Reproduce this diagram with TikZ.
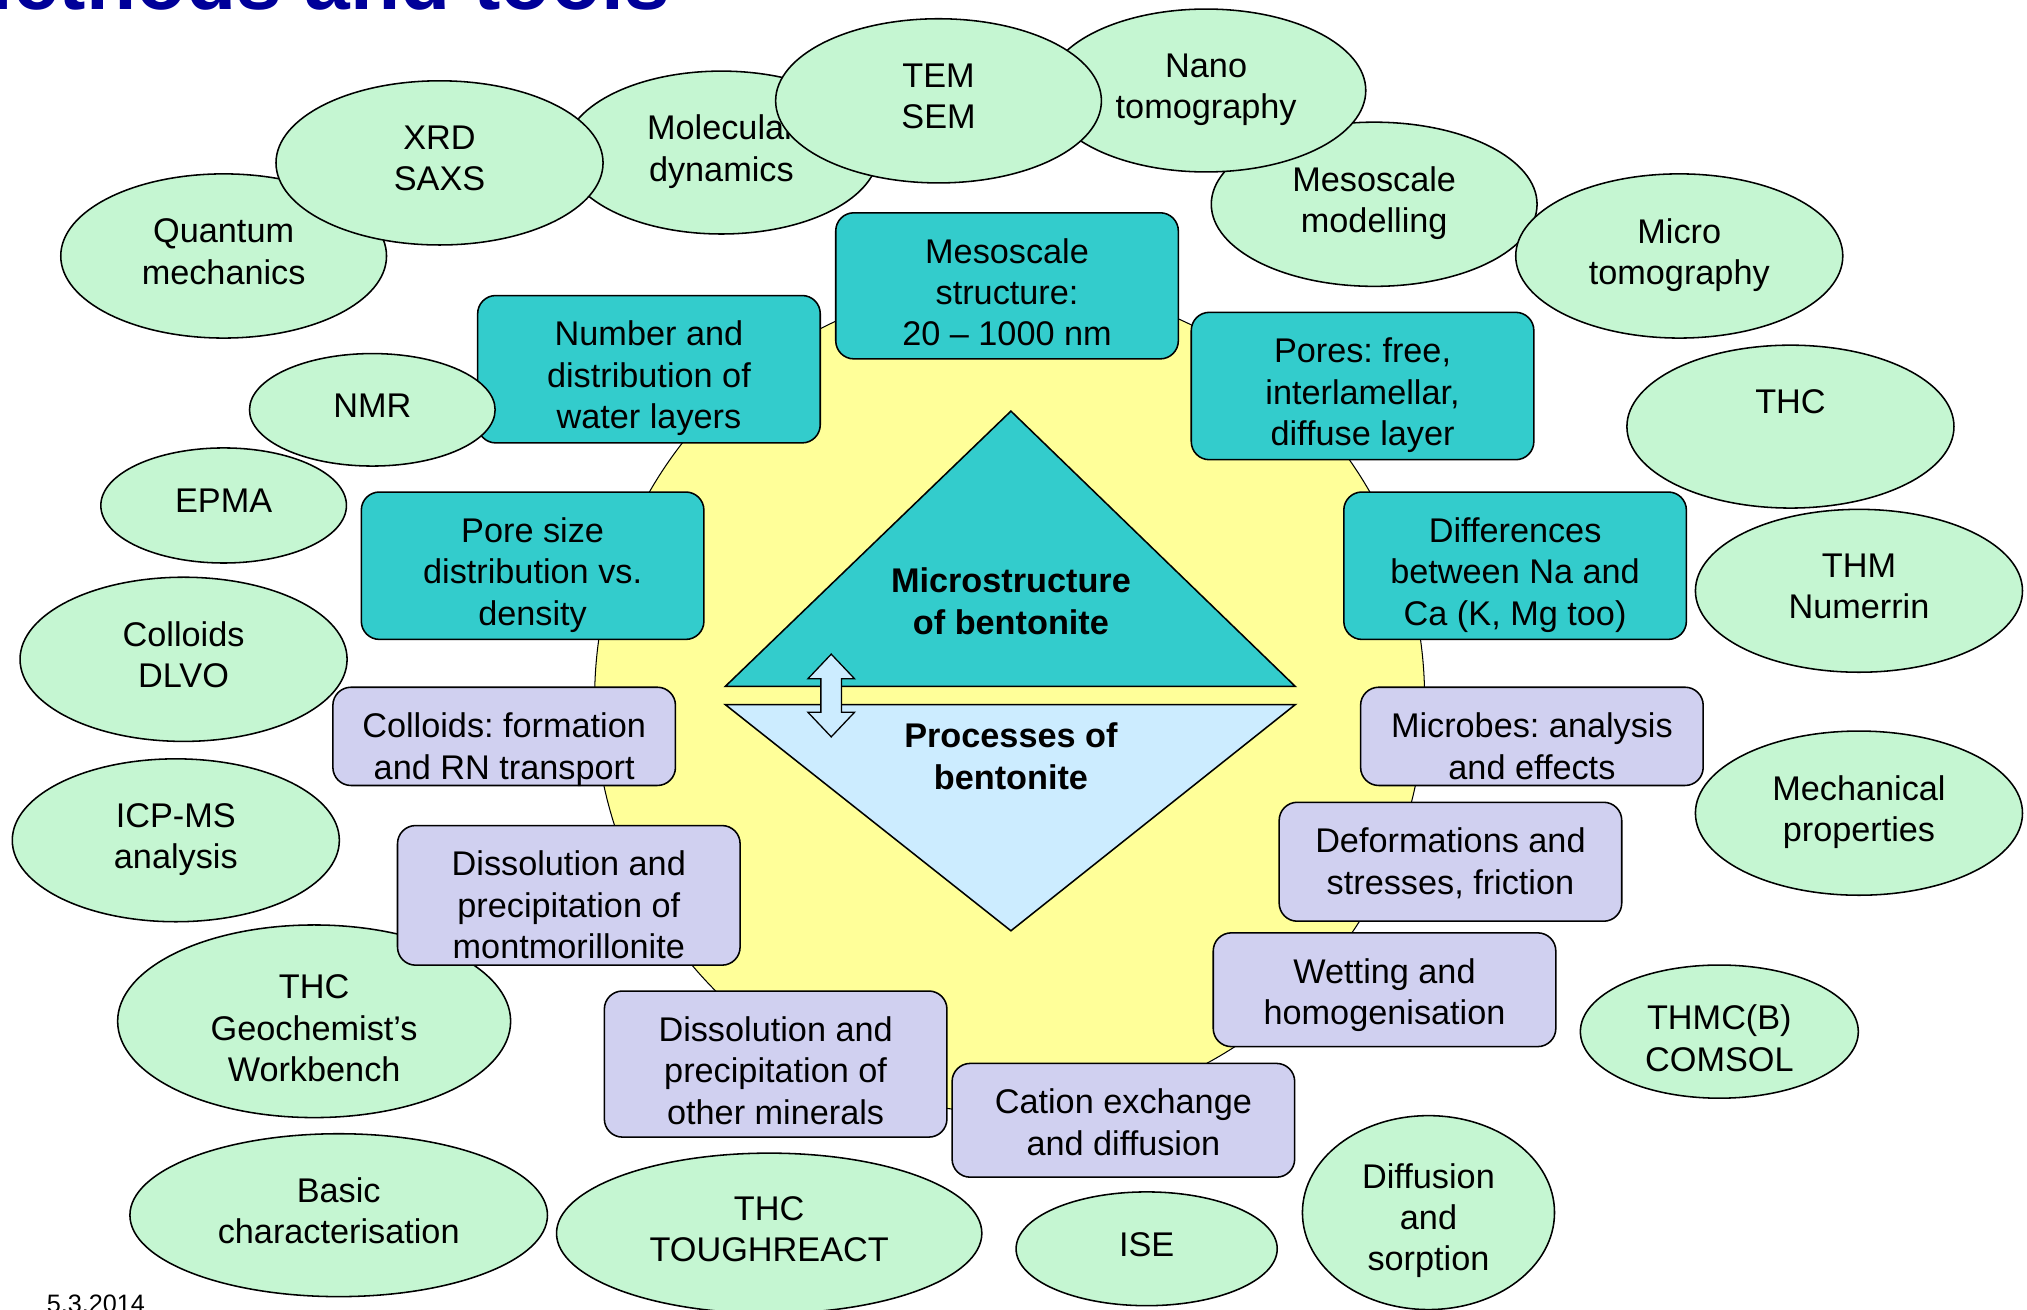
\documentclass[tikz,border=0pt]{standalone}
\usepackage{fontspec}
\setmainfont{Liberation Sans}
\frenchspacing
\usetikzlibrary{shapes}
\definecolor{toolgreen}{RGB}{197,246,210}
\definecolor{structteal}{RGB}{51,204,204}
\definecolor{proclilac}{RGB}{208,208,240}
\definecolor{proclight}{RGB}{204,236,255}
\definecolor{coreyellow}{RGB}{255,255,153}
\definecolor{titleblue}{RGB}{0,0,153}
\tikzstyle{tool}=[ellipse,draw=black,line width=1.2pt,fill=toolgreen,inner sep=0pt,align=center,text depth=7pt]
\tikzstyle{sbox}=[rectangle,rounded corners=14pt,draw=black,line width=1.2pt,fill=structteal,inner sep=0pt,
  minimum width=265pt,align=center,anchor=north]
\tikzstyle{pbox}=[sbox,fill=proclilac]
\tikzstyle{twolines}=[text height=71pt]
\tikzstyle{threelines}=[text height=103pt]
\tikzstyle{core}=[align=center,font=\fontsize{26.5}{32}\selectfont\bfseries]

\begin{document}
\begin{tikzpicture}[x=1pt,y=-1pt,font=\fontsize{26.5}{32}\selectfont]
\useasboundingbox (0,0) rectangle (1568,1013);
\clip (0,0) rectangle (1568,1013);
\node[anchor=base west,inner sep=0pt,text=titleblue,font=\fontsize{63.5}{70}\selectfont\bfseries] (title) at (-43,7) {Methods and tools};
\node[anchor=base west,inner sep=0pt,font=\fontsize{19.5}{23}\selectfont] (date) at (36,1015) {5.3.2014};
\filldraw[fill=coreyellow,line width=0.8pt] (781,540) circle (321pt);
\filldraw[fill=structteal,line width=1.2pt] (561,531) -- (782,318) -- (1002,531) -- cycle;
\filldraw[fill=proclight,line width=1.2pt] (561,545) -- (1002,545) -- (782,720) -- cycle;
\node[core] (mstruct) at (782,465) {Microstructure\\of bentonite};
\node[core] (mproc) at (782,585) {Processes of\\bentonite};
\filldraw[fill=proclight,line width=1pt] (643,506) -- (661,525) -- (651,525) -- (651,551) -- (661,551) -- (643,570) -- (625,551) -- (635,551) -- (635,525) -- (625,525) -- cycle;
\node[tool,minimum width=304pt,minimum height=149pt,text height=93pt,text depth=0pt] (gwb) at (243,790) {THC\\Geochemist’s\\Workbench};
\node[sbox,threelines,text depth=10pt] (mesostr) at (779,164) {Mesoscale\\structure:\\20 – 1000 nm};
\node[sbox,threelines,text depth=11pt] (water) at (502,228) {Number and\\distribution of\\water layers};
\node[sbox,threelines,text depth=11pt] (pores) at (1054,241) {Pores: free,\\interlamellar,\\diffuse layer};
\node[sbox,threelines,text depth=11pt] (poresize) at (412,380) {Pore size\\distribution vs.\\density};
\node[sbox,threelines,text depth=11pt] (naca) at (1172,380) {Differences\\between Na and\\Ca (K, Mg too)};
\node[pbox,twolines,text depth=5pt] (colform) at (390,531) {Colloids: formation\\and RN transport};
\node[pbox,twolines,text depth=5pt] (microbes) at (1185,531) {Microbes: analysis\\and effects};
\node[pbox,threelines,text depth=5pt] (montm) at (440,638) {Dissolution and\\precipitation of\\montmorillonite};
\node[pbox,twolines,text depth=21pt] (deform) at (1122,620) {Deformations and\\stresses, friction};
\node[pbox,threelines,text depth=10pt] (othermin) at (600,766) {Dissolution and\\precipitation of\\other minerals};
\node[pbox,twolines,text depth=17pt] (wetting) at (1071,721) {Wetting and\\homogenisation};
\node[pbox,twolines,text depth=17pt] (cation) at (869,822) {Cation exchange\\and diffusion};
\node[tool,minimum width=252pt,minimum height=127pt] (mesomod) at (1063,158) {Mesoscale\\modelling};
\node[tool,minimum width=253pt,minimum height=127pt] (microtom) at (1299,198) {Micro\\tomography};
\node[tool,minimum width=247pt,minimum height=126pt] (nanotom) at (933,70) {Nano\\tomography};
\node[tool,minimum width=252pt,minimum height=127pt] (quantum) at (173,198) {Quantum\\mechanics};
\node[tool,minimum width=243pt,minimum height=126pt] (moldyn) at (558,118) {Molecular\\dynamics};
\node[tool,minimum width=253pt,minimum height=127pt] (xrd) at (340,126) {XRD\\SAXS};
\node[tool,minimum width=252pt,minimum height=127pt] (tem) at (726,78) {TEM\\SEM};
\node[tool,minimum width=190pt,minimum height=87pt] (nmr) at (288,317) {NMR};
\node[tool,minimum width=190pt,minimum height=89pt] (epma) at (173,391) {EPMA};
\node[tool,minimum width=253pt,minimum height=126pt] (thc) at (1385,330) {THC\\\mbox{}};
\node[tool,minimum width=253pt,minimum height=126pt] (thm) at (1438,457) {THM\\Numerrin};
\node[tool,minimum width=253pt,minimum height=127pt] (dlvo) at (142,510) {Colloids\\DLVO};
\node[tool,minimum width=253pt,minimum height=126pt] (icpms) at (136,650) {ICP-MS\\analysis};
\node[tool,minimum width=253pt,minimum height=127pt] (mech) at (1438,629) {Mechanical\\properties};
\node[tool,minimum width=215pt,minimum height=103pt,text height=61pt,text depth=0pt] (comsol) at (1330,798) {THMC(B)\\COMSOL};
\node[tool,minimum width=323pt,minimum height=126pt] (basic) at (262,940) {Basic\\characterisation};
\node[tool,minimum width=329pt,minimum height=124pt] (tough) at (595,954) {THC\\TOUGHREACT};
\node[tool,minimum width=202pt,minimum height=88pt] (ise) at (887,966) {ISE};
\node[tool,minimum width=195pt,minimum height=150pt,text height=90pt,text depth=0pt] (difsorp) at (1105,938) {Diffusion\\and\\sorption};
\end{tikzpicture}
\end{document}
